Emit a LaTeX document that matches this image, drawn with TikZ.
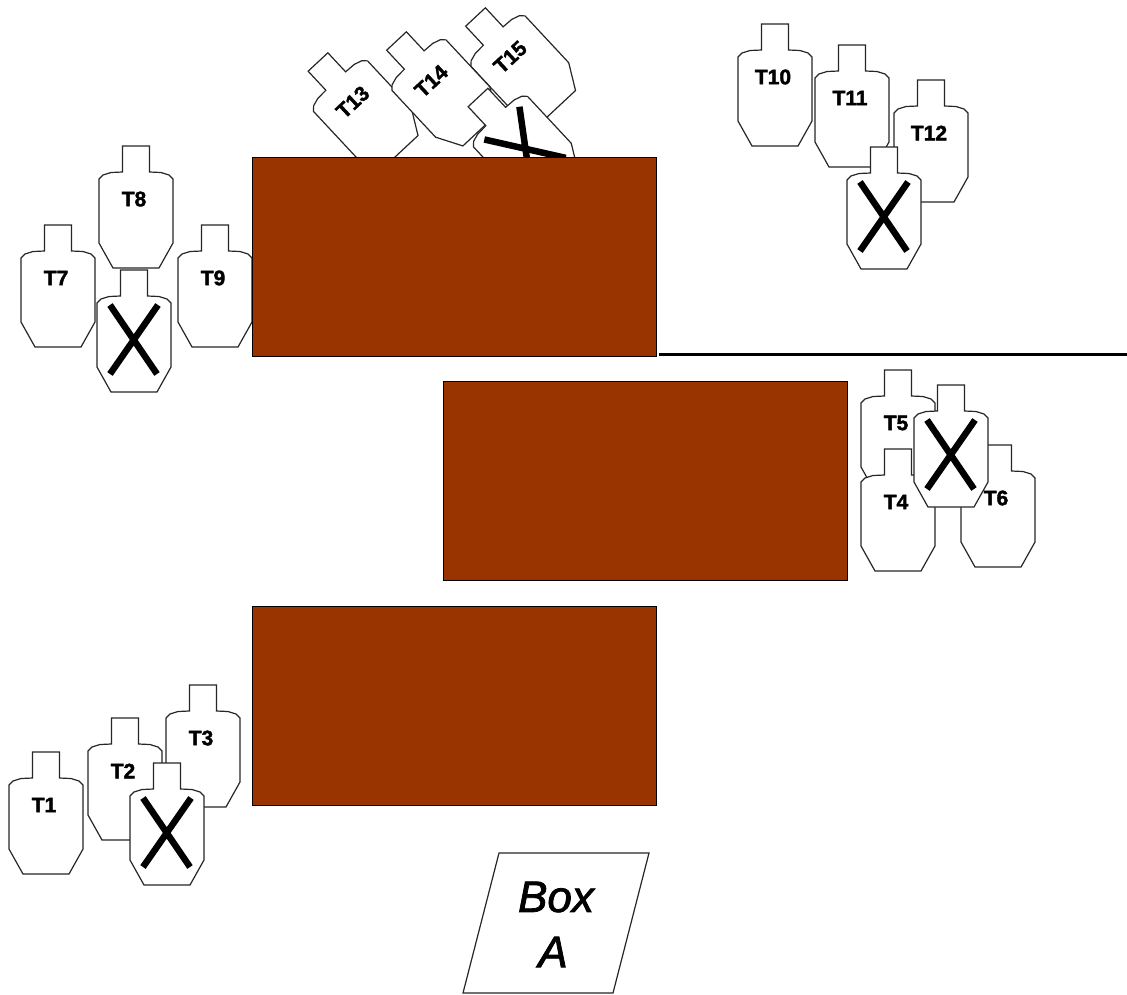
\documentclass[tikz,border=0pt]{standalone}
\usepackage{fontspec}
\setmainfont{Liberation Sans}
\newfontfamily\lblfont[FakeBold=1.8]{Liberation Sans Bold}
\newfontfamily\boxfont[FakeBold=1.8]{Liberation Sans Italic}
\newcommand{\tgtoutline}{\path[tgtline] (-13.5,0)--(13.5,0)--(13.5,26)--(25,26.5)--(33,29)--(37,33)--(37,97)--(23,122)--(-23,122)--(-37,97)--(-37,33)--(-33,29)--(-25,26.5)--(-13.5,26)--cycle;}
\tikzset{
  x=1pt,y=-1pt,
  tgtline/.style={draw=black!85,line width=1.2pt,fill=white,line join=miter},
  wall/.style={draw=black,line width=1pt,fill=wallbrown,inner sep=0pt,anchor=north west,minimum width=403.5pt,minimum height=198.5pt},
  tgtlabel/.style={inner sep=0pt,font=\fontsize{21}{21}\selectfont\lblfont,transform shape},
  boxtext/.style={inner sep=0pt,font=\fontsize{44}{44}\selectfont\boxfont},
  named target/.pic={
    \tgtoutline
    \node[tgtlabel] at (-2,53) {\tikzpictext};
  },
  no-shoot/.pic={
    \tgtoutline
    \draw[black,line width=6.5pt] (-24,35)--(23,104) (24,35)--(-24,104);
  }
}
\definecolor{wallbrown}{HTML}{993300}
\begin{document}
\begin{tikzpicture}
\useasboundingbox (0,0) rectangle (1127,994);
% bottom-left group
\pic[pic text=T1] at (46,752) {named target};
\pic[pic text=T3] at (203,685) {named target};
\pic[pic text=T2] at (125,718) {named target};
\pic at (167,763) {no-shoot};
% right-middle group
\pic[pic text=T5] at (898,370) {named target};
\pic[pic text=T6] at (998,445) {named target};
\pic[pic text=T4] at (898,449) {named target};
\pic at (951,385) {no-shoot};
% left group
\pic[pic text=T7] at (58,225) {named target};
\pic[pic text=T9] at (215,225) {named target};
\pic at (134,270) {no-shoot};
\pic[pic text=T8] at (136,146) {named target};
% top-right group
\pic[pic text=T10] at (775,24) {named target};
\pic[pic text=T11] at (852,45) {named target};
\pic[pic text=T12] at (931,80) {named target};
\pic at (884,147) {no-shoot};
% top group, leaning
\pic[rotate=43,pic text=T13] at (318,62) {named target};
\pic[rotate=43,pic text=T15] at (475.5,17) {named target};
\pic[rotate=43,pic text=T14] at (396.5,41) {named target};
\pic[rotate=43] at (478,97.5) {no-shoot};
% walls
\node[wall] (wallA) at (252,157) {};
\node[wall] (wallB) at (443,381) {};
\node[wall] (wallC) at (252,606) {};
\coordinate (fenceL) at (659,354);
\coordinate (fenceR) at (1127,354);
\draw[black,line width=3pt] (fenceL)--(fenceR);
% box A
\path[draw=black!85,line width=1.2pt,fill=white] (499,853)--(649,853)--(613,993)--(463,993)--cycle;
\node[boxtext] (boxw) at (556,897) {Box};
\node[boxtext] (boxl) at (553,952) {A};
\end{tikzpicture}
\end{document}
